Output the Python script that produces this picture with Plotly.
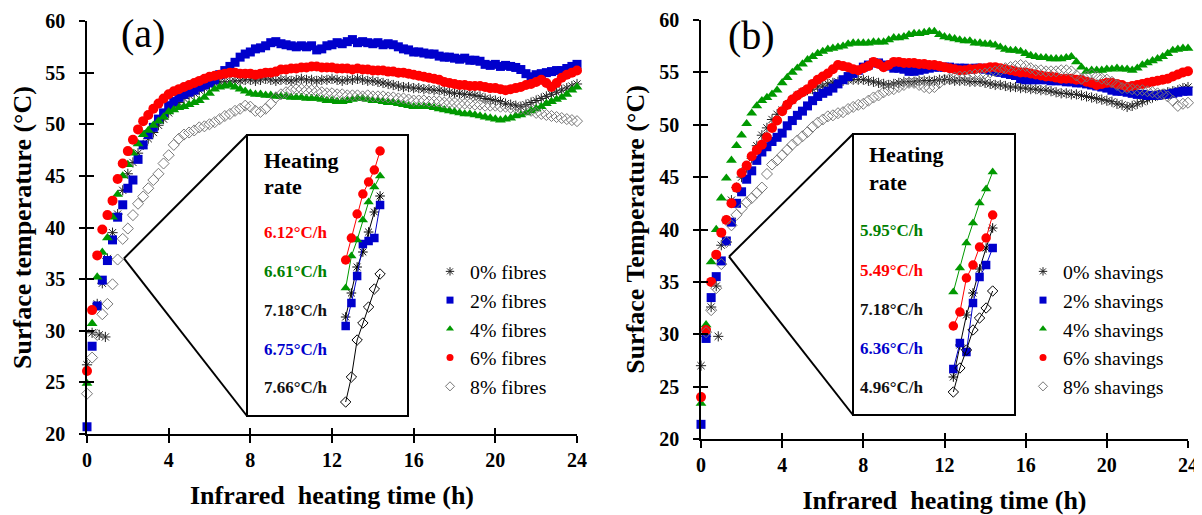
import plotly.graph_objects as go

PAGE_W, PAGE_H = 1202, 515
BODY_MARGIN = 8          # default page margin around the plot div
W, H = PAGE_W - BODY_MARGIN, PAGE_H - BODY_MARGIN
FONT = "Liberation Serif"

# ---------------- data ----------------
STEP_H = 0.25  # sampling interval (h)
N_SAMPLES = 97
time_h = [i * STEP_H for i in range(N_SAMPLES)]

series_a_names = ["0% fibres", "2% fibres", "4% fibres", "6% fibres", "8% fibres"]
series_b_names = ["0% shavings", "2% shavings", "4% shavings", "6% shavings", "8% shavings"]

a_fib0 = [26.7, 29.8, 32.6, 34.6, 37.0, 39.5, 41.3, 43.6, 45.2, 46.3, 47.2, 48.0, 48.6, 49.2, 49.9, 50.5,
          51.1, 51.7, 52.1, 52.5, 52.8, 53.0, 53.3, 53.5, 53.8, 54.0, 54.1, 54.1, 54.1, 54.2, 54.2, 54.3,
          54.3, 54.2, 54.3, 54.4, 54.3, 54.2, 54.3, 54.3, 54.2, 54.3, 54.4, 54.3, 54.3, 54.2, 54.3, 54.3,
          54.4, 54.3, 54.2, 54.3, 54.3, 54.4, 54.3, 54.2, 54.2, 54.1, 54.0, 53.9, 53.8, 53.7, 53.6, 53.6,
          53.5, 53.5, 53.4, 53.4, 53.3, 53.3, 53.2, 53.1, 53.0, 53.0, 52.9, 52.9, 52.8, 52.7, 52.5, 52.4,
          52.3, 52.2, 52.0, 51.9, 51.8, 51.7, 51.9, 52.1, 52.3, 52.5, 52.7, 52.9, 53.1, 53.3, 53.5, 53.7,
          53.9]
a_fib2 = [20.7, 28.5, 32.4, 34.9, 36.8, 38.8, 41.0, 42.2, 43.8, 44.6, 46.6, 48.0, 49.0, 49.7, 50.5, 51.1,
          51.8, 52.2, 52.6, 52.9, 53.1, 53.3, 53.6, 53.8, 54.0, 54.3, 54.8, 55.2, 55.6, 56.0, 56.5, 56.8,
          57.0, 57.3, 57.4, 57.6, 57.9, 58.0, 57.8, 57.7, 57.6, 57.5, 57.6, 57.5, 57.6, 57.2, 57.3, 57.6,
          57.7, 57.9, 57.8, 58.0, 58.2, 57.9, 58.0, 57.9, 57.8, 57.9, 57.7, 57.8, 57.7, 57.5, 57.3, 57.2,
          57.0, 57.0, 56.9, 56.8, 56.8, 56.6, 56.5, 56.5, 56.4, 56.3, 56.4, 56.2, 56.2, 56.1, 55.8, 55.7,
          55.8, 55.6, 55.7, 55.6, 55.5, 55.3, 54.9, 54.6, 54.8, 54.9, 55.0, 55.1, 55.2, 55.2, 55.4, 55.6,
          55.8]
a_fib4 = [24.9, 30.7, 35.2, 37.6, 39.0, 41.0, 43.2, 45.0, 46.1, 47.2, 48.1, 49.0, 49.4, 49.9, 50.3, 50.7,
          51.2, 51.4, 51.6, 51.7, 51.9, 52.1, 52.3, 52.6, 53.0, 53.4, 53.6, 53.7, 53.8, 53.6, 53.4, 53.2,
          53.0, 52.9, 52.9, 52.8, 52.8, 52.7, 52.7, 52.7, 52.6, 52.6, 52.6, 52.5, 52.5, 52.5, 52.4, 52.3,
          52.3, 52.2, 52.2, 52.3, 52.4, 52.5, 52.5, 52.4, 52.3, 52.3, 52.2, 52.1, 52.1, 52.0, 51.9, 51.8,
          51.7, 51.7, 51.7, 51.7, 51.6, 51.5, 51.4, 51.3, 51.2, 51.1, 51.0, 51.0, 50.9, 50.8, 50.7, 50.6,
          50.5, 50.4, 50.5, 50.6, 50.8, 50.9, 51.1, 51.3, 51.5, 51.7, 52.0, 52.2, 52.4, 52.6, 52.9, 53.3,
          53.6]
a_fib6 = [26.1, 32.0, 37.3, 39.8, 41.2, 42.6, 44.7, 46.2, 47.4, 48.5, 49.5, 50.3, 50.9, 51.5, 52.0, 52.5,
          52.9, 53.2, 53.4, 53.6, 53.8, 54.0, 54.2, 54.4, 54.6, 54.7, 54.8, 54.9, 55.0, 55.0, 54.9, 54.9,
          54.9, 54.8, 54.9, 55.0, 55.0, 55.1, 55.3, 55.3, 55.4, 55.4, 55.5, 55.5, 55.6, 55.6, 55.5, 55.5,
          55.5, 55.4, 55.4, 55.4, 55.3, 55.4, 55.3, 55.3, 55.2, 55.2, 55.2, 55.1, 55.1, 55.0, 55.0, 54.9,
          54.8, 54.7, 54.6, 54.5, 54.4, 54.3, 54.1, 54.0, 53.9, 53.8, 53.8, 53.7, 53.7, 53.7, 53.6, 53.5,
          53.5, 53.4, 53.3, 53.4, 53.5, 53.6, 53.8, 53.9, 54.1, 54.3, 54.0, 53.6, 54.0, 54.5, 54.8, 55.0,
          55.2]
a_fib8 = [23.9, 27.4, 29.6, 31.6, 32.6, 34.5, 36.9, 38.9, 39.9, 41.2, 42.3, 43.0, 43.8, 44.6, 45.2, 46.2,
          47.0, 48.0, 48.6, 49.0, 49.2, 49.4, 49.7, 49.8, 50.0, 50.2, 50.5, 50.8, 51.0, 51.3, 51.5, 51.8,
          51.7, 51.3, 51.2, 51.5, 52.0, 52.6, 52.9, 53.1, 53.3, 53.4, 53.4, 53.3, 53.3, 53.2, 53.1, 53.0,
          53.0, 52.9, 52.9, 52.8, 52.8, 52.8, 52.7, 52.8, 52.7, 52.7, 52.7, 52.6, 52.6, 52.5, 52.5, 52.4,
          52.3, 52.3, 52.3, 52.2, 52.2, 52.2, 52.1, 52.1, 52.1, 52.0, 52.0, 52.0, 51.9, 51.9, 51.8, 51.8,
          51.8, 51.7, 51.7, 51.6, 51.6, 51.5, 51.4, 51.3, 51.1, 51.0, 50.9, 50.8, 50.7, 50.6, 50.5, 50.4,
          50.3]
a_fib0_extra_t = [0.6, 0.9]
a_fib0_extra_T = [29.6, 29.4]

b_sh0 = [27.0, 29.8, 32.6, 34.6, 38.5, 40.9, 42.8, 44.0, 45.0, 45.9, 46.8, 48.0, 49.0, 49.7, 50.5, 51.0,
         51.4, 51.9, 52.4, 52.8, 53.1, 53.3, 53.4, 53.6, 53.7, 53.9, 54.0, 54.1, 54.2, 54.3, 54.3, 54.3,
         54.3, 54.2, 54.1, 54.0, 53.9, 53.8, 53.9, 54.0, 54.1, 54.1, 54.1, 54.2, 54.2, 54.2, 54.2, 54.3,
         54.3, 54.3, 54.2, 54.2, 54.2, 54.1, 54.1, 54.1, 54.0, 53.9, 53.8, 53.8, 53.7, 53.6, 53.6, 53.5,
         53.5, 53.4, 53.4, 53.3, 53.3, 53.2, 53.1, 53.0, 53.0, 52.9, 52.9, 52.8, 52.7, 52.6, 52.5, 52.4,
         52.3, 52.2, 52.0, 51.9, 51.7, 51.8, 52.0, 52.2, 52.4, 52.6, 52.8, 52.9, 53.1, 53.2, 53.3, 53.5,
         53.6]
b_sh2 = [21.4, 29.6, 33.5, 35.5, 37.0, 38.9, 40.7, 42.5, 43.6, 44.8, 45.6, 46.6, 47.4, 47.9, 48.4, 48.8,
         49.2, 49.9, 50.4, 50.9, 51.3, 51.8, 52.3, 52.7, 53.0, 53.2, 53.5, 53.9, 54.3, 54.6, 54.9, 55.2,
         55.5, 55.7, 55.9, 55.9, 55.7, 55.6, 55.4, 55.4, 55.3, 55.1, 55.1, 55.2, 55.3, 55.4, 55.5, 55.5,
         55.5, 55.5, 55.4, 55.4, 55.4, 55.3, 55.4, 55.4, 55.3, 55.2, 55.1, 55.0, 54.9, 54.8, 54.7, 54.4,
         54.3, 54.3, 54.3, 54.3, 54.3, 54.2, 54.2, 54.2, 54.1, 54.1, 54.0, 54.0, 53.9, 53.8, 53.7, 53.6,
         53.5, 53.3, 53.2, 53.2, 53.1, 53.0, 52.9, 52.9, 52.8, 52.8, 52.8, 52.9, 52.9, 53.0, 53.1, 53.2,
         53.2]
b_sh4 = [23.4, 30.9, 36.9, 40.0, 43.0, 44.9, 46.6, 48.0, 49.0, 50.1, 51.1, 51.8, 52.3, 52.6, 52.9, 53.3,
         54.0, 54.5, 55.0, 55.4, 55.8, 56.2, 56.5, 56.8, 57.0, 57.2, 57.3, 57.4, 57.5, 57.7, 57.8, 57.8,
         57.8, 57.8, 57.9, 57.9, 57.9, 58.1, 58.3, 58.3, 58.4, 58.6, 58.7, 58.7, 58.8, 58.9, 58.9, 58.6,
         58.4, 58.3, 58.2, 58.1, 58.0, 58.0, 57.8, 57.8, 57.7, 57.7, 57.6, 57.4, 57.2, 57.1, 57.1, 57.0,
         56.8, 56.6, 56.5, 56.4, 56.4, 56.3, 56.3, 56.3, 56.4, 56.5, 56.0, 55.5, 55.1, 55.2, 55.2, 55.2,
         55.3, 55.3, 55.4, 55.3, 55.3, 55.2, 55.4, 55.7, 55.9, 56.1, 56.3, 56.5, 56.8, 57.1, 57.2, 57.3,
         57.3]
b_sh6 = [24.0, 30.4, 35.0, 37.6, 39.7, 40.9, 42.5, 44.0, 45.4, 46.1, 47.0, 47.6, 48.1, 48.8, 49.7, 50.4,
         51.3, 51.9, 52.4, 52.8, 53.1, 53.4, 53.9, 54.3, 54.6, 54.9, 55.3, 55.7, 55.6, 55.5, 55.3, 55.2,
         55.4, 55.6, 56.0, 55.8, 55.5, 55.7, 56.0, 56.0, 55.9, 55.9, 55.9, 55.8, 55.8, 55.7, 55.7, 55.6,
         55.5, 55.4, 55.3, 55.2, 55.2, 55.3, 55.3, 55.4, 55.4, 55.5, 55.5, 55.4, 55.3, 55.2, 55.1, 55.0,
         55.0, 54.9, 54.8, 54.7, 54.6, 54.6, 54.5, 54.4, 54.4, 54.4, 54.3, 54.3, 54.1, 54.0, 53.8, 53.9,
         54.0, 54.0, 53.9, 53.8, 53.6, 53.7, 53.8, 53.9, 54.0, 54.1, 54.2, 54.3, 54.4, 54.6, 54.8, 55.0,
         55.1]
b_sh8 = [None, 30.2, 32.3, 34.4, 36.7, 38.8, 40.4, 41.4, 42.0, 42.6, 43.0, 43.5, 44.0, 45.3, 46.2, 46.6,
         47.1, 47.6, 48.1, 48.5, 48.9, 49.3, 49.8, 50.2, 50.5, 50.8, 50.9, 51.1, 51.2, 51.5, 51.7, 51.9,
         52.0, 52.3, 52.6, 52.8, 53.1, 53.3, 53.4, 53.6, 53.8, 54.0, 54.0, 53.8, 53.6, 53.5, 53.6, 54.0,
         54.3, 54.4, 54.5, 54.6, 54.6, 54.7, 54.8, 54.8, 54.9, 55.0, 55.1, 55.2, 55.4, 55.5, 55.6, 55.7,
         55.6, 55.4, 55.2, 55.2, 55.1, 55.1, 55.1, 55.2, 55.2, 55.1, 54.7, 54.4, 54.6, 54.8, 54.6, 54.4,
         54.3, 54.1, 53.8, 53.5, 53.5, 53.4, 53.3, 53.3, 53.2, 53.1, 53.0, 52.9, 52.7, 52.3, 51.8, 52.0,
         52.1]
b_sh0_extra_t = [0.85]
b_sh0_extra_T = [29.8]

# insets: first seven readings (step index) used for the heating-rate fits
inset_step = [0, 1, 2, 3, 4, 5, 6]
inset_a = [
    [29.3, 31.7, 34.3, 35.8, 37.8, 39.8, 41.4],   # 0%
    [28.4, 30.7, 33.4, 36.6, 36.9, 37.2, 40.5],   # 2%
    [32.2, 35.4, 37.0, 39.0, 40.8, 42.3, 43.4],   # 4%
    [35.0, 37.2, 39.6, 41.6, 42.8, 44.0, 45.9],   # 6%
    [20.8, 23.3, 27.0, 28.7, 30.3, 32.1, 33.6],   # 8%
]
inset_b = [
    [23.3, 26.5, 29.5, 31.7, 34.1, 36.2, 38.2],   # 0%
    [24.1, 26.7, 25.8, 30.7, 33.3, 34.5, 36.2],   # 2%
    [31.8, 34.2, 36.7, 38.7, 40.7, 42.1, 43.8],   # 4%
    [28.4, 29.8, 33.2, 34.5, 36.3, 37.2, 39.5],   # 6%
    [21.8, 24.2, 26.0, 28.0, 29.2, 30.2, 31.9],   # 8%
]
rates_a = ["6.12°C/h", "6.61°C/h", "7.18°C/h", "6.75°C/h", "7.66°C/h"]
rates_b = ["5.95°C/h", "5.49°C/h", "7.18°C/h", "6.36°C/h", "4.96°C/h"]

x_ticks = [0, 4, 8, 12, 16, 20, 24]
y_ticks = [20, 25, 30, 35, 40, 45, 50, 55, 60]

# ---------------- styles ----------------
COL = ["#222222", "#0000CC", "#009900", "#FF0000", "#777777"]
SYM = ["asterisk-open", "square", "triangle-up", "circle", "diamond-open"]
SIZE = [8.5, 9, 9.5, 10, 8.5]
rate_a_colors = ["#FF0000", "#008000", "#111111", "#0000CC", "#111111"]
rate_b_colors = ["#008000", "#FF0000", "#111111", "#0000CC", "#111111"]


def mk(i, size=None, inset=False):
    c = COL[i]
    if inset and i in (0, 4):
        c = "#000000"
    m = dict(symbol=SYM[i], color=c, size=size or SIZE[i])
    if SYM[i].endswith("open"):
        m["line"] = dict(width=1, color=c)
    else:
        m["line"] = dict(width=0)
    return m


# page pixel -> paper fraction (figure sits BODY_MARGIN px inside the page)
def px_x(p):
    return (p - BODY_MARGIN) / W


def px_y(p):
    return 1 - (p - BODY_MARGIN) / H


# panel geometry (page pixels)
A_X = (87, 577); A_Y = (434, 21)
B_X = (701, 1188); B_Y = (439, 20)
AI_X = (330, 400); AI_Y = (410, 140)
BI_X = (935, 1005); BI_Y = (410, 140)
AI_XR = [(330 - 345.67) / 5.733, (400 - 345.67) / 5.733]
BI_XR = [(935 - 953.33) / 6.556, (1005 - 953.33) / 6.556]
INSET_YR = [20, 47]

fig = go.Figure()

a_series = [a_fib0, a_fib2, a_fib4, a_fib6, a_fib8]
b_series = [b_sh0, b_sh2, b_sh4, b_sh6, b_sh8]

for i in range(5):
    fig.add_trace(go.Scatter(x=time_h, y=a_series[i], mode="markers", marker=mk(i),
                             xaxis="x", yaxis="y", showlegend=False, cliponaxis=False,
                             name=series_a_names[i]))
    if i == 0:
        fig.add_trace(go.Scatter(x=a_fib0_extra_t, y=a_fib0_extra_T, mode="markers", marker=mk(0),
                                 xaxis="x", yaxis="y", showlegend=False, cliponaxis=False))
for i in range(5):
    fig.add_trace(go.Scatter(x=time_h, y=b_series[i], mode="markers", marker=mk(i),
                             xaxis="x2", yaxis="y2", showlegend=False, cliponaxis=False,
                             name=series_b_names[i]))
    if i == 0:
        fig.add_trace(go.Scatter(x=b_sh0_extra_t, y=b_sh0_extra_T, mode="markers", marker=mk(0),
                                 xaxis="x2", yaxis="y2", showlegend=False, cliponaxis=False))

# insets
for i in range(5):
    lc = "#000000" if i in (0, 4) else COL[i]
    fig.add_trace(go.Scatter(x=inset_step, y=inset_a[i], mode="lines+markers",
                             marker=mk(i, size=SIZE[i] - 0.5, inset=True), line=dict(color=lc, width=1),
                             xaxis="x3", yaxis="y3", showlegend=False, cliponaxis=False))
    fig.add_trace(go.Scatter(x=inset_step, y=inset_b[i], mode="lines+markers",
                             marker=mk(i, size=SIZE[i] - 0.5, inset=True), line=dict(color=lc, width=1),
                             xaxis="x4", yaxis="y4", showlegend=False, cliponaxis=False))

# legend entries
for i in range(5):
    fig.add_trace(go.Scatter(x=[None], y=[None], mode="markers", marker=mk(i, size=7),
                             name=series_a_names[i], legend="legend", xaxis="x", yaxis="y"))
    fig.add_trace(go.Scatter(x=[None], y=[None], mode="markers", marker=mk(i, size=7),
                             name=series_b_names[i], legend="legend2", xaxis="x2", yaxis="y2"))

# helper traces for crossing ticks
fig.add_trace(go.Scatter(x=[None], y=[None], xaxis="x5", yaxis="y5", showlegend=False))
fig.add_trace(go.Scatter(x=[None], y=[None], xaxis="x6", yaxis="y6", showlegend=False))

tickfont = dict(family=FONT, size=20, color="black", weight="bold")
titlefont = dict(family=FONT, size=26, color="black", weight="bold")


def main_x(dom, title, anchor):
    return dict(domain=[px_x(dom[0]), px_x(dom[1])], range=[0, 24], tickvals=x_ticks,
                ticks="outside", ticklen=7, tickwidth=1.5, tickcolor="black",
                showline=True, linecolor="black", linewidth=1.5, showgrid=False, zeroline=False,
                tickfont=tickfont, anchor=anchor, automargin=False,
                title=dict(text=title, font=titlefont, standoff=16))


def main_y(dom, title, anchor):
    return dict(domain=[px_y(dom[0]), px_y(dom[1])], range=[20, 60], tickvals=y_ticks,
                ticks="outside", ticklen=6, tickwidth=1.5, tickcolor="black",
                showline=True, linecolor="black", linewidth=1.5, showgrid=False, zeroline=False,
                tickfont=tickfont, anchor=anchor, ticklabelstandoff=10, automargin=False,
                title=dict(text=title, font=titlefont, standoff=7))


def cross_x(dom, over, anchor):
    return dict(domain=[px_x(dom[0]), px_x(dom[1])], range=[0, 24], tickvals=x_ticks,
                ticks="inside", ticklen=6, tickwidth=1.5, tickcolor="black", overlaying=over,
                showline=False, showgrid=False, zeroline=False, showticklabels=False, anchor=anchor,
                automargin=False)


def cross_y(dom, over, anchor):
    return dict(domain=[px_y(dom[0]), px_y(dom[1])], range=[20, 60], tickvals=y_ticks,
                ticks="inside", ticklen=7, tickwidth=1.5, tickcolor="black", overlaying=over,
                showline=False, showgrid=False, zeroline=False, showticklabels=False, anchor=anchor,
                automargin=False)


def hidden(dom, rng, is_x):
    d = [px_x(dom[0]), px_x(dom[1])] if is_x else [px_y(dom[0]), px_y(dom[1])]
    return dict(domain=d, range=rng, visible=False, showgrid=False, zeroline=False, automargin=False)


xt = "Infrared\u00a0 heating time (h)"
legend_common = dict(font=dict(family=FONT, size=19.8, color="black"), bgcolor="rgba(0,0,0,0)",
                     xanchor="left", yanchor="top", itemwidth=30, borderwidth=0)

fig.update_layout(
    width=W, height=H, margin=dict(l=0, r=0, t=0, b=0, autoexpand=False),
    paper_bgcolor="white", plot_bgcolor="rgba(0,0,0,0)",
    font=dict(family=FONT, color="black"),
    xaxis=main_x(A_X, xt, "y"),
    yaxis=main_y(A_Y, "Surface temperature (°C)", "x"),
    xaxis2=main_x(B_X, xt, "y2"),
    yaxis2=main_y(B_Y, "Surface Temperature (°C)", "x2"),
    xaxis3=hidden(AI_X, AI_XR, True), yaxis3=hidden(AI_Y, INSET_YR, False),
    xaxis4=hidden(BI_X, BI_XR, True), yaxis4=hidden(BI_Y, INSET_YR, False),
    xaxis5=cross_x(A_X, "x", "y5"), yaxis5=cross_y(A_Y, "y", "x5"),
    xaxis6=cross_x(B_X, "x2", "y6"), yaxis6=cross_y(B_Y, "y2", "x6"),
    legend=dict(x=px_x(430), y=px_y(252), **legend_common),
    legend2=dict(x=px_x(1023), y=px_y(252), **legend_common),
    showlegend=True,
)

# inset boxes and connectors (vertex anchored to a data location on each panel)
def data_to_px(t, T, xd, yd):
    x = xd[0] + (xd[1] - xd[0]) * t / 24.0
    y = yd[0] + (yd[1] - yd[0]) * (T - 20) / 40.0
    return x, y

vert_a = data_to_px(1.81, 37.0, A_X, A_Y)
vert_b = data_to_px(1.38, 37.4, B_X, B_Y)
box_a = (247, 135, 408, 416)
box_b = (853, 134, 1015, 415)
shapes = []
for box, vert in ((box_a, vert_a), (box_b, vert_b)):
    x0, y0, x1, y1 = box
    shapes.append(dict(type="rect", xref="paper", yref="paper", x0=px_x(x0), x1=px_x(x1),
                       y0=px_y(y1), y1=px_y(y0), line=dict(color="black", width=2)))
    for cy in (y0, y1):
        shapes.append(dict(type="line", xref="paper", yref="paper", x0=px_x(vert[0]), y0=px_y(vert[1]),
                           x1=px_x(x0), y1=px_y(cy), line=dict(color="black", width=2)))
fig.update_layout(shapes=shapes)

ann = []
ann.append(dict(text="(a)", x=px_x(143), y=px_y(33), xref="paper", yref="paper", showarrow=False,
                font=dict(family=FONT, size=40, color="black"), xanchor="center", yanchor="middle"))
ann.append(dict(text="(b)", x=px_x(751), y=px_y(35), xref="paper", yref="paper", showarrow=False,
                font=dict(family=FONT, size=40, color="black"), xanchor="center", yanchor="middle"))
for (hx, hy1, hy2) in ((262, 160, 186), (867, 154, 182)):
    ann.append(dict(text="Heating", x=px_x(hx), y=px_y(hy1), xref="paper", yref="paper", showarrow=False,
                    font=dict(family=FONT, size=22, color="black", weight="bold"),
                    xanchor="left", yanchor="middle"))
    ann.append(dict(text="rate", x=px_x(hx), y=px_y(hy2), xref="paper", yref="paper", showarrow=False,
                    font=dict(family=FONT, size=22, color="black", weight="bold"),
                    xanchor="left", yanchor="middle"))
rate_y_a = [232, 271, 310, 349, 387]
rate_y_b = [230, 270, 309, 348, 387]
for i in range(5):
    ann.append(dict(text=rates_a[i], x=px_x(262), y=px_y(rate_y_a[i]), xref="paper", yref="paper",
                    showarrow=False, font=dict(family=FONT, size=17, color=rate_a_colors[i], weight="bold"),
                    xanchor="left", yanchor="middle"))
    ann.append(dict(text=rates_b[i], x=px_x(858), y=px_y(rate_y_b[i]), xref="paper", yref="paper",
                    showarrow=False, font=dict(family=FONT, size=17, color=rate_b_colors[i], weight="bold"),
                    xanchor="left", yanchor="middle"))
fig.update_layout(annotations=ann)

fig.write_html("out.html")
